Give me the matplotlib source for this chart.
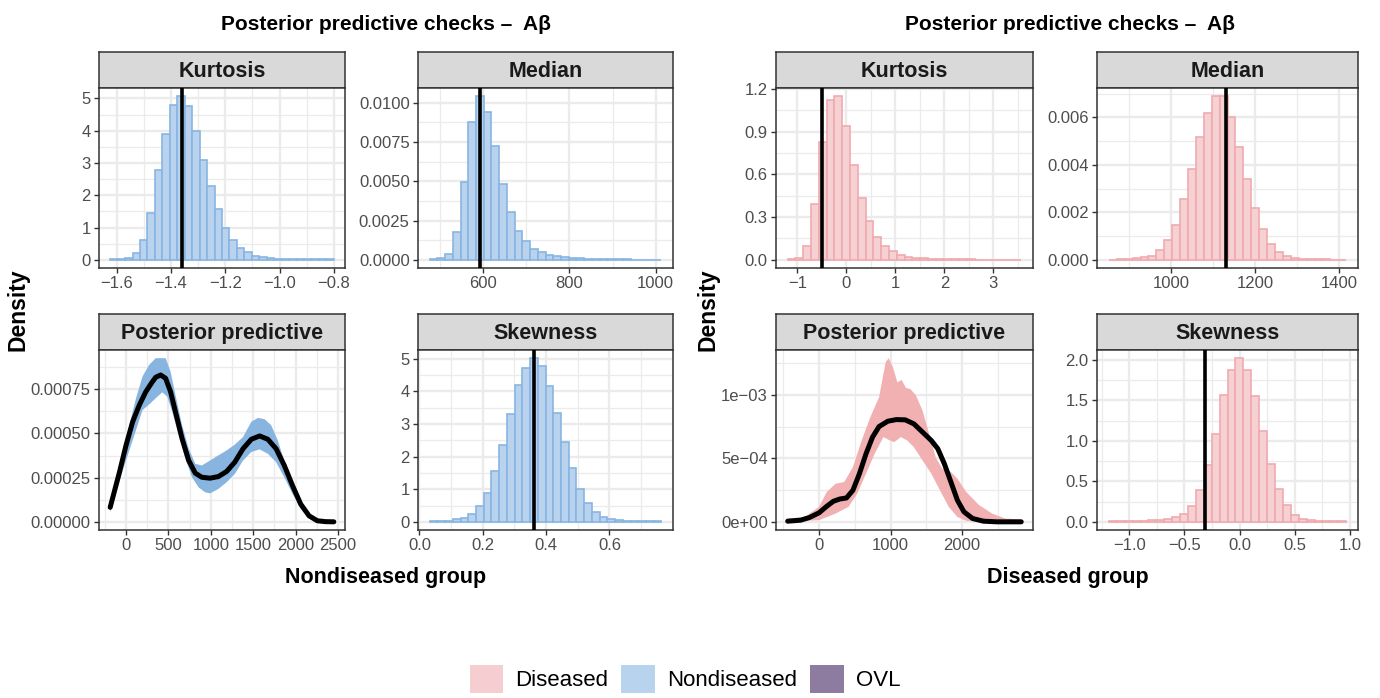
import numpy as np
import matplotlib
matplotlib.use("Agg")
import matplotlib.pyplot as plt
from matplotlib.patches import Patch

W, H, DPI = 1380, 698, 100
NARROW = ['Liberation Sans Narrow', 'Liberation Sans', 'DejaVu Sans']
REGULAR = ['Liberation Sans', 'DejaVu Sans']
plt.rcParams['font.family'] = NARROW

# ---------------- data ----------------
# Nondiseased group: histograms of posterior predictive statistics (30 bins)
nd_kurt_range = (-1.624, -0.800)
nd_kurt_dens = [0.01, 0.02, 0.05, 0.20, 0.60, 1.46, 2.78, 3.89, 4.81, 5.07,
                4.76, 3.99, 3.09, 2.30, 1.57, 1.00, 0.62, 0.38, 0.23, 0.13,
                0.08, 0.05, 0.04, 0.03, 0.02, 0.02, 0.01, 0.01, 0.01, 0.01]
nd_kurt_obs = -1.358

nd_med_range = (475.6, 1013.4)
nd_med_dens = [v * 1e-4 for v in
               [0.4, 1.0, 3.6, 17.6, 49.4, 87.7, 104.2, 94.3, 72.5, 48.3,
                30.3, 18.2, 11.7, 7.0, 4.7, 3.2, 2.3, 1.7, 1.2, 1.0,
                0.8, 0.6, 0.5, 0.4, 0.3, 0.3, 0.2, 0.2, 0.1, 0.1]]
nd_med_obs = 592.0

nd_skew_range = (0.032, 0.764)
nd_skew_dens = [0.01, 0.02, 0.04, 0.08, 0.12, 0.23, 0.50, 0.89, 1.55, 2.35,
                3.30, 4.19, 4.72, 5.02, 4.79, 4.18, 3.35, 2.44, 1.65, 1.02,
                0.58, 0.31, 0.14, 0.08, 0.05, 0.03, 0.02, 0.01, 0.01, 0.01]
nd_skew_obs = 0.362

# Nondiseased posterior predictive density: mean curve and band
nd_mean_x = [-187, -78, 0, 78, 156, 233, 311, 350, 408, 467, 525, 583, 661, 739,
             817, 894, 991, 1089, 1186, 1283, 1380, 1477, 1575, 1672, 1769, 1866,
             1963, 2060, 2158, 2255, 2352, 2450]
nd_mean_y = [v * 1e-4 for v in
             [0.82, 2.80, 4.33, 5.66, 6.60, 7.36, 7.93, 8.18, 8.31, 8.12, 7.36,
              6.22, 4.70, 3.47, 2.75, 2.52, 2.47, 2.56, 2.85, 3.38, 4.14, 4.67,
              4.86, 4.67, 4.14, 3.19, 2.05, 1.00, 0.34, 0.06, 0.01, 0.00]]
nd_up_x = [-187, -117, -39, 39, 117, 194, 272, 350, 467, 525, 583, 661, 739, 817,
           894, 991, 1089, 1186, 1283, 1380, 1477, 1555, 1633, 1711, 1789, 1866,
           1963, 2060, 2158, 2255, 2372, 2450]
nd_up_y = [v * 1e-4 for v in
           [1.10, 2.43, 3.95, 5.47, 6.98, 8.22, 8.88, 9.26, 9.26, 8.50, 7.17,
            5.47, 4.14, 3.28, 3.19, 3.47, 3.76, 4.04, 4.37, 4.80, 5.66, 5.88,
            5.81, 5.47, 4.61, 3.47, 2.24, 1.10, 0.44, 0.11, 0.02, 0.00]]
nd_lo_x = [-187, -117, -39, 39, 117, 194, 272, 369, 428, 486, 544, 622, 700, 778,
           855, 933, 991, 1089, 1186, 1283, 1380, 1477, 1575, 1672, 1769, 1866,
           1963, 2061, 2158, 2255, 2449]
nd_lo_y = [v * 1e-4 for v in
           [0.53, 1.67, 2.90, 4.04, 5.18, 6.32, 6.64, 7.08, 7.33, 7.08, 6.23,
            4.90, 3.57, 2.52, 1.95, 1.67, 1.61, 1.86, 2.24, 2.71, 3.47, 3.95,
            4.10, 3.85, 3.38, 2.52, 1.58, 0.72, 0.25, 0.04, 0.00]]

# Diseased group
d_kurt_range = (-1.20, 3.571)
d_kurt_dens = [0.005, 0.014, 0.10, 0.39, 0.83, 1.12, 1.15, 0.94, 0.667, 0.436,
               0.27, 0.16, 0.098, 0.061, 0.035, 0.021, 0.014, 0.010, 0.008, 0.006,
               0.005, 0.004, 0.003, 0.003, 0.002, 0.002, 0.002, 0.001, 0.001, 0.001]
d_kurt_obs = -0.50

d_med_range = (851.6, 1417.5)
d_med_dens = [v * 1e-4 for v in
              [0.1, 0.2, 0.4, 0.7, 1.1, 1.8, 4.1, 8.3, 14.6, 25.7,
               38.1, 51.6, 62.0, 68.9, 68.9, 60.0, 47.6, 34.2, 21.8, 12.8,
               6.6, 3.1, 1.5, 0.8, 0.5, 0.3, 0.2, 0.2, 0.1, 0.1]]
d_med_obs = 1130.0

d_skew_range = (-1.184, 0.964)
d_skew_dens = [0.004, 0.005, 0.008, 0.010, 0.013, 0.018, 0.025, 0.035, 0.055, 0.095,
               0.20, 0.39, 0.70, 1.09, 1.56, 1.88, 2.02, 1.88, 1.55, 1.12,
               0.71, 0.40, 0.21, 0.09, 0.04, 0.025, 0.015, 0.010, 0.006, 0.004]
d_skew_obs = -0.313

d_mean_x = [-438, -255, -134, 0, 109, 201, 292, 383, 474, 565, 657, 748, 839, 961,
            1082, 1204, 1326, 1447, 1569, 1660, 1751, 1843, 1934, 2025, 2147,
            2298, 2481, 2826]
d_mean_y = [v * 1e-4 for v in
            [0.05, 0.13, 0.34, 0.71, 1.23, 1.62, 1.80, 1.88, 2.49, 3.80, 5.37,
             6.68, 7.51, 7.93, 8.06, 8.04, 7.72, 7.07, 6.41, 5.76, 4.58, 3.14,
             1.70, 0.79, 0.26, 0.05, 0.00, 0.00]]
d_up_x = [-438, -195, 0, 109, 231, 353, 474, 596, 717, 839, 931, 973, 1034, 1095,
          1155, 1216, 1277, 1356, 1447, 1538, 1629, 1721, 1843, 1934, 2056, 2238,
          2420, 2602, 2826]
d_up_y = [v * 1e-4 for v in
          [0.26, 0.39, 1.18, 2.36, 3.00, 3.14, 4.32, 6.41, 8.25, 9.82, 12.57,
           12.90, 12.17, 11.00, 11.18, 10.55, 10.47, 9.95, 8.77, 6.94, 5.10,
           4.19, 3.93, 3.40, 2.36, 1.31, 0.65, 0.26, 0.18]]
d_lo_x = [-438, 0, 231, 413, 535, 657, 778, 900, 991, 1052, 1143, 1234, 1325,
          1447, 1569, 1690, 1812, 1933, 2055, 2237, 2827]
d_lo_y = [v * 1e-4 for v in
          [0.00, 0.13, 0.65, 1.18, 2.23, 3.80, 5.37, 6.68, 6.41, 6.28, 6.68,
           6.41, 5.89, 4.84, 3.80, 2.49, 1.18, 0.39, 0.08, 0.00, 0.00]]

group_labels = ['Diseased', 'Nondiseased', 'OVL']
title_text = 'Posterior predictive checks \u2013  A\u03b2'

# ---------------- styling ----------------
BLUE_FILL, BLUE_EDGE, BLUE_BAND = '#B9D3EF', '#88B5E2', '#88B4E0'
PINK_FILL, PINK_EDGE, PINK_BAND = '#F6D1D4', '#F0AAAD', '#F1B1B2'
LEGEND_COLORS = ['#F6CDD0', '#B8D3EE', '#8E7BA0']
GRID = '#EBEBEB'
DARK = '#333333'
TICKTXT = '#4D4D4D'

fig = plt.figure(figsize=(W / DPI, H / DPI), dpi=DPI)


def px_axes(x0, y0, x1, y1):
    return fig.add_axes([x0 / W, 1 - y1 / H, (x1 - x0) / W, (y1 - y0) / H])


def minor_of(major, lo, hi):
    step = major[1] - major[0]
    cands = np.concatenate([[major[0] - step / 2], np.asarray(major) + step / 2])
    return [c for c in cands if lo <= c <= hi]


def panel(box, strip_label, xticks, xlabels, yticks, ylabels, xlim, ylim):
    x0, y0, x1, y1 = box
    st = px_axes(x0, y0 - 36, x1, y0)
    st.set_facecolor('#D9D9D9')
    st.set_xticks([]); st.set_yticks([])
    for s in st.spines.values():
        s.set_color(DARK); s.set_linewidth(1.1)
    st.text(0.5, 0.47, strip_label, ha='center', va='center', fontsize=15.5,
            fontweight='bold', color='#1A1A1A', transform=st.transAxes)

    ax = px_axes(x0, y0, x1, y1)
    ax.set_xlim(*xlim); ax.set_ylim(*ylim)
    ax.set_xticks(xticks); ax.set_xticklabels(xlabels)
    ax.set_yticks(yticks); ax.set_yticklabels(ylabels)
    ax.set_xticks(minor_of(xticks, *xlim), minor=True)
    ax.set_yticks(minor_of(yticks, *ylim), minor=True)
    ax.grid(which='major', color=GRID, lw=1.7)
    ax.grid(which='minor', color=GRID, lw=0.9)
    ax.set_axisbelow(True)
    ax.tick_params(which='major', length=3.5, width=1.0, color=DARK,
                   labelsize=12, labelcolor=TICKTXT, pad=2.5)
    ax.tick_params(which='minor', length=0)
    for s in ax.spines.values():
        s.set_color(DARK); s.set_linewidth(1.1)
    return ax


def expand(lo, hi, f=0.05):
    r = hi - lo
    return (lo - f * r, hi + f * r)


def hist_panel(box, label, rng, dens, obs, fill, edge, xticks, xlabels, yticks, ylabels):
    xlim = expand(*rng)
    ylim = expand(0, max(dens))
    ax = panel(box, label, xticks, xlabels, yticks, ylabels, xlim, ylim)
    edges = np.linspace(rng[0], rng[1], len(dens) + 1)
    ax.bar(edges[:-1], dens, width=np.diff(edges), align='edge', color=fill,
           edgecolor=edge, linewidth=1.2, zorder=2)
    ax.axvline(obs, color='black', lw=2.6, zorder=3)
    return ax


def ppc_panel(box, mx, my, ux, uy, lx, ly, band, xticks, xlabels, yticks, ylabels):
    xs = mx + ux + lx
    xlim = expand(min(xs), max(xs))
    ylim = expand(0, max(uy))
    ax = panel(box, 'Posterior predictive', xticks, xlabels, yticks, ylabels, xlim, ylim)
    ax.fill(list(ux) + list(lx)[::-1], list(uy) + list(ly)[::-1], color=band,
            lw=0, zorder=2)
    ax.plot(mx, my, color='black', lw=3.6, solid_capstyle='round',
            solid_joinstyle='round', zorder=3)
    return ax


def minus(vals, fmt):
    return [fmt.format(v).replace('-', '\u2212') for v in vals]


# ---- Nondiseased (left block) ----
k = [-1.6, -1.4, -1.2, -1.0, -0.8]
hist_panel((99, 88, 345, 268), 'Kurtosis', nd_kurt_range, nd_kurt_dens, nd_kurt_obs,
           BLUE_FILL, BLUE_EDGE, k, minus(k, '{:.1f}'), [0, 1, 2, 3, 4, 5],
           ['0', '1', '2', '3', '4', '5'])
m = [600, 800, 1000]
mt = [0, 0.0025, 0.005, 0.0075, 0.01]
hist_panel((418, 88, 673, 268), 'Median', nd_med_range, nd_med_dens, nd_med_obs,
           BLUE_FILL, BLUE_EDGE, m, [str(v) for v in m], mt,
           ['{:.4f}'.format(v) for v in mt])
p = [0, 500, 1000, 1500, 2000, 2500]
pt = [0, 0.00025, 0.0005, 0.00075]
ppc_panel((99, 350, 345, 530), nd_mean_x, nd_mean_y, nd_up_x, nd_up_y, nd_lo_x,
          nd_lo_y, BLUE_BAND, p, [str(v) for v in p], pt,
          ['{:.5f}'.format(v) for v in pt])
s = [0.0, 0.2, 0.4, 0.6]
hist_panel((418, 350, 673, 530), 'Skewness', nd_skew_range, nd_skew_dens, nd_skew_obs,
           BLUE_FILL, BLUE_EDGE, s, ['{:.1f}'.format(v) for v in s],
           [0, 1, 2, 3, 4, 5], ['0', '1', '2', '3', '4', '5'])

# ---- Diseased (right block) ----
k2 = [-1, 0, 1, 2, 3]
k2y = [0.0, 0.3, 0.6, 0.9, 1.2]
hist_panel((776, 88, 1033, 268), 'Kurtosis', d_kurt_range, d_kurt_dens, d_kurt_obs,
           PINK_FILL, PINK_EDGE, k2, minus(k2, '{:d}'), k2y,
           ['{:.1f}'.format(v) for v in k2y])
m2 = [1000, 1200, 1400]
m2y = [0, 0.002, 0.004, 0.006]
hist_panel((1097, 88, 1358, 268), 'Median', d_med_range, d_med_dens, d_med_obs,
           PINK_FILL, PINK_EDGE, m2, [str(v) for v in m2], m2y,
           ['{:.3f}'.format(v) for v in m2y])
p2 = [0, 1000, 2000]
p2y = [0, 0.0005, 0.001]
ppc_panel((776, 350, 1033, 530), d_mean_x, d_mean_y, d_up_x, d_up_y, d_lo_x, d_lo_y,
          PINK_BAND, p2, [str(v) for v in p2], p2y, ['0e+00', '5e\u221204', '1e\u221203'])
s2 = [-1.0, -0.5, 0.0, 0.5, 1.0]
s2y = [0.0, 0.5, 1.0, 1.5, 2.0]
hist_panel((1097, 350, 1358, 530), 'Skewness', d_skew_range, d_skew_dens, d_skew_obs,
           PINK_FILL, PINK_EDGE, s2, minus(s2, '{:.1f}'), s2y,
           ['{:.1f}'.format(v) for v in s2y])

# ---- titles and axis labels ----
for cx in (386, 1070):
    fig.text(cx / W, 1 - 24 / H, title_text, ha='center', va='center',
             fontsize=15, fontweight='bold', color='black')
fig.text(386 / W, 1 - 577 / H, 'Nondiseased group', ha='center', va='center',
         fontsize=15.5, fontweight='bold')
fig.text(1068 / W, 1 - 577 / H, 'Diseased group', ha='center', va='center',
         fontsize=15.5, fontweight='bold')
for cx in (18, 708):
    fig.text(cx / W, 1 - 310 / H, 'Density', ha='center', va='center', rotation=90,
             fontsize=16.5, fontweight='bold', family=REGULAR)

# ---- legend ----
handles = [Patch(facecolor=c, edgecolor='none') for c in LEGEND_COLORS]
fig.legend(handles, group_labels, loc='center', bbox_to_anchor=(685 / W, 1 - 679 / H),
           ncol=3, frameon=False, prop={'family': REGULAR, 'size': 16},
           handlelength=1.5, handleheight=1.5, handletextpad=0.55,
           columnspacing=0.6, borderaxespad=0)

fig.savefig('out.png', dpi=DPI, facecolor='white')
